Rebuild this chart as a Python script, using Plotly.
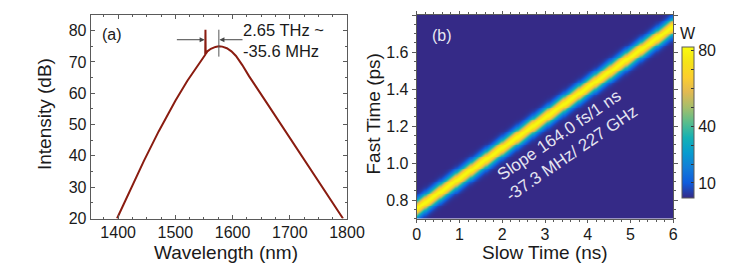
import numpy as np
import plotly.graph_objects as go

# ---------------- data: panel (a) spectrum ----------------
wavelength_nm = [1398, 1410, 1423, 1445, 1471, 1500, 1521, 1535, 1544, 1550, 1552.2,
                 1552.6, 1553.0, 1556, 1562, 1570, 1576, 1582, 1590, 1598, 1606,
                 1617, 1629, 1658, 1687, 1716, 1746, 1770, 1793]
intensity_db = [20.0, 24.8, 29.9, 38.4, 47.9, 57.6, 64.0, 67.9, 70.3, 71.8, 72.3,
                80.3, 72.6, 73.4, 74.2, 74.8, 75.0, 74.9, 74.4, 73.4, 71.9,
                69.0, 65.4, 57.4, 49.3, 41.3, 33.0, 26.4, 20.0]
x_ticks_a = [1400, 1500, 1600, 1700, 1800]
y_ticks_a = [20, 30, 40, 50, 60, 70, 80]
spike_nm = 1552.6
peak_nm = 1576
arrow_level_db = 77.1
marker_top_db, marker_bot_db = 80.3, 71.7
annot_a = "2.65 THz ~<br>-35.6 MHz"

# ---------------- data: panel (b) slow/fast time map ----------------
slow_time_ns = np.linspace(0, 6, 241)
fast_time_ps = np.linspace(0.7, 1.8, 221)
slope_ps_per_ns = 0.164
intercept_ps = 0.757
width_ps = 0.031
peak_w = 81.0
floor_w = 2.0
cbar_ticks = [10, 20, 30, 40, 50, 60, 70, 80]
cbar_labels = ["10", "", "", "40", "", "", "", "80"]
annot_b = "Slope 164.0 fs/1 ns<br>-37.3 MHz/ 227 GHz"

X, Y = np.meshgrid(slow_time_ns, fast_time_ps)
Z = floor_w + (peak_w - floor_w) * np.exp(-((Y - (intercept_ps + slope_ps_per_ns * X)) ** 2) / (2 * width_ps ** 2))

parula = [
    [0.00, "rgb(53,42,135)"], [0.10, "rgb(15,92,221)"], [0.20, "rgb(18,125,216)"],
    [0.30, "rgb(7,156,207)"], [0.40, "rgb(21,177,180)"], [0.50, "rgb(89,189,140)"],
    [0.60, "rgb(165,190,107)"], [0.70, "rgb(225,185,82)"], [0.80, "rgb(252,206,46)"],
    [0.90, "rgb(245,227,23)"], [1.00, "rgb(249,251,14)"],
]

# the page body adds an 8 px offset; figure sized to the visible area
OFF = 8
W, H = 747 - OFF, 267 - OFF


def fx(px):
    return (px - OFF) / W


def fy(py):
    return 1 - (py - OFF) / H


FONT = "Liberation Sans, Arial, sans-serif"
TXT = "#1a1a1a"
AX = "#5a5a5a"

fig = go.Figure()
fig.add_trace(go.Scatter(x=wavelength_nm, y=intensity_db, mode="lines",
                         line=dict(color="#8a1c10", width=2), xaxis="x", yaxis="y",
                         showlegend=False, hoverinfo="skip"))
fig.add_trace(go.Heatmap(x=slow_time_ns, y=fast_time_ps, z=Z, colorscale=parula,
                         zmin=floor_w, zmax=peak_w + 1, xaxis="x2", yaxis="y2",
                         zsmooth="best",
                         colorbar=dict(x=fx(681.7), xanchor="left", xpad=0, ypad=0,
                                       thickness=12, thicknessmode="pixels",
                                       len=151 / H, lenmode="fraction",
                                       y=fy(122.5), yanchor="middle",
                                       outlinewidth=1, outlinecolor=AX,
                                       tickmode="array", tickvals=cbar_ticks, ticktext=cbar_labels,
                                       ticks="inside", ticklen=3, tickcolor="#333",
                                       tickfont=dict(family=FONT, size=16, color=TXT))))

ydom = [fy(218.5), fy(15)]
common = dict(showline=True, linecolor=AX, linewidth=1, mirror="ticks",
              showgrid=False, zeroline=False, tickcolor=AX, automargin=False,
              tickfont=dict(family=FONT, size=16, color=TXT))

fig.update_layout(
    width=W, height=H, margin=dict(l=0, r=0, t=0, b=0, autoexpand=False),
    paper_bgcolor="white", plot_bgcolor="white", showlegend=False,
    xaxis=dict(domain=[fx(90.7), fx(347)], range=[1352, 1800], tickvals=x_ticks_a,
               ticks="inside", ticklen=4, ticklabelstandoff=-1,
               minor=dict(dtick=25, tick0=1400, ticks="inside", ticklen=2, tickcolor=AX),
               anchor="y", **common),
    yaxis=dict(domain=ydom, range=[20, 85], tickvals=y_ticks_a,
               ticks="inside", ticklen=4,
               minor=dict(dtick=5, tick0=20, ticks="inside", ticklen=2, tickcolor=AX),
               anchor="x", **common),
    xaxis2=dict(domain=[fx(416.7), fx(673.3)], range=[0, 6], dtick=1,
                ticks="outside", ticklen=3, ticklabelstandoff=-2,
                minor=dict(dtick=0.2, ticks="outside", ticklen=2, tickcolor=AX),
                anchor="y2", **common),
    yaxis2=dict(domain=ydom, range=[0.7, 1.8], tickvals=[0.8, 1.0, 1.2, 1.4, 1.6, 1.8],
                ticktext=["0.8", "1.0", "1.2", "1.4", "1.6", "1.8"],
                ticks="outside", ticklen=4,
                minor=dict(dtick=0.05, tick0=0.7, ticks="outside", ticklen=2, tickcolor=AX),
                anchor="x2", **common),
)

TFONT = dict(family=FONT, size=19, color=TXT)
ann = []
# axis titles (placed in screen pixels)
ann.append(dict(x=fx(226), y=fy(252), xref="paper", yref="paper", text="Wavelength (nm)",
                showarrow=False, xanchor="center", yanchor="middle", font=TFONT))
ann.append(dict(x=fx(545), y=fy(252), xref="paper", yref="paper", text="Slow Time (ns)",
                showarrow=False, xanchor="center", yanchor="middle", font=TFONT))
ann.append(dict(x=fx(44), y=fy(114), xref="paper", yref="paper", text="Intensity (dB)",
                showarrow=False, textangle=-90, xanchor="center", yanchor="middle", font=TFONT))
ann.append(dict(x=fx(372.5), y=fy(114), xref="paper", yref="paper", text="Fast Time (ps)",
                showarrow=False, textangle=-90, xanchor="center", yanchor="middle", font=TFONT))
ann.append(dict(x=fx(687.5), y=fy(33), xref="paper", yref="paper", text="W",
                showarrow=False, xanchor="center", yanchor="middle",
                font=dict(family=FONT, size=16, color=TXT)))

arrow = dict(xref="x", yref="y", axref="x", ayref="y", showarrow=True,
             arrowhead=2, arrowsize=1, arrowwidth=1, arrowcolor="#444", text="")
ann.append(dict(x=spike_nm - 1.5, y=arrow_level_db, ax=1500, ay=arrow_level_db, **arrow))
ann.append(dict(x=peak_nm + 1, y=arrow_level_db, ax=1620, ay=arrow_level_db, **arrow))
ann.append(dict(x=1614.6, y=76.9, xref="x", yref="y", text=annot_a, showarrow=False,
                xanchor="left", yanchor="middle", align="left",
                font=dict(family=FONT, size=16.5, color=TXT)))
ann.append(dict(x=1390, y=78.7, xref="x", yref="y", text="(a)", showarrow=False,
                xanchor="center", yanchor="middle",
                font=dict(family=FONT, size=16, color=TXT)))
ann.append(dict(x=0.59, y=1.69, xref="x2", yref="y2", text="(b)", showarrow=False,
                xanchor="center", yanchor="middle",
                font=dict(family=FONT, size=16, color="#e8e8f2")))
ann.append(dict(x=3.47, y=1.10, xref="x2", yref="y2", text=annot_b, showarrow=False,
                textangle=-34.5, xanchor="center", yanchor="middle", align="center",
                font=dict(family=FONT, size=17, color="#e4e4f0")))
fig.update_layout(annotations=ann)

fig.add_shape(type="line", xref="x", yref="y", x0=peak_nm, x1=peak_nm,
              y0=marker_bot_db, y1=marker_top_db, line=dict(color="#555", width=1))

fig.write_html("out.html")
